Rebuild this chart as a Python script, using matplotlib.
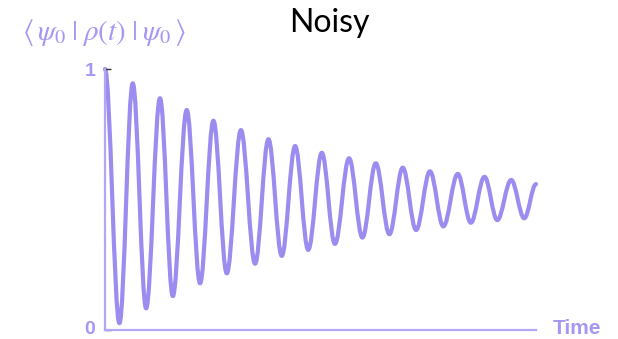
import matplotlib
matplotlib.use('Agg')
import matplotlib.pyplot as plt
from matplotlib.path import Path
from matplotlib.patches import PathPatch
from matplotlib.transforms import ScaledTranslation

# extremos (picos e vales) da curva; tempo em unidades de periodo
tempos = [0.00, 0.54, 1.04, 1.54, 2.06, 2.54, 3.06, 3.56, 4.06, 4.56, 5.09,
          5.62, 6.12, 6.62, 7.12, 7.61, 8.12, 8.61, 9.14, 9.64, 10.14, 10.65,
          11.15, 11.65, 12.17, 12.67, 13.21, 13.70, 14.21, 14.69, 15.21, 15.70, 16.14]
fidelidade = [1.000, 0.026, 0.945, 0.083, 0.888, 0.130, 0.843, 0.179, 0.802, 0.217, 0.766,
              0.254, 0.731, 0.284, 0.705, 0.307, 0.679, 0.330, 0.658, 0.354, 0.639, 0.367,
              0.622, 0.383, 0.608, 0.397, 0.598, 0.411, 0.587, 0.421, 0.575, 0.428, 0.559]
yticks = [0, 1]
ytick_labels = ['0', '1']

cor_linha = '#9b8cf0'
cor_eixo = '#b2a6f5'
cor_texto = '#a597f2'

plt.rcParams['mathtext.fontset'] = 'stix'

fig = plt.figure(figsize=(6.18, 3.39), dpi=100)
ax = fig.add_axes([105 / 618, 9 / 339, 431 / 618, 261 / 339])

# curva suave: segmentos de Bezier com tangente horizontal em cada extremo
verts = [(tempos[0], fidelidade[0])]
codes = [Path.MOVETO]
for i in range(len(tempos) - 1):
    d = (tempos[i + 1] - tempos[i]) * 0.3634
    verts += [(tempos[i] + d, fidelidade[i]),
              (tempos[i + 1] - d, fidelidade[i + 1]),
              (tempos[i + 1], fidelidade[i + 1])]
    codes += [Path.CURVE4] * 3
curva = PathPatch(Path(verts, codes), fill=False, edgecolor=cor_linha,
                  linewidth=3.0, capstyle='round', joinstyle='round', clip_on=False)
ax.add_patch(curva)

ax.set_xlim(0, tempos[-1])
ax.set_ylim(0, 1)
for lado in ['top', 'right']:
    ax.spines[lado].set_visible(False)
for lado in ['left', 'bottom']:
    ax.spines[lado].set_color(cor_eixo)
    ax.spines[lado].set_linewidth(1.6)

ax.set_xticks([])
ax.set_yticks(yticks)
ax.set_yticklabels(ytick_labels, fontsize=14, fontweight='bold',
                   color=cor_texto, family='Liberation Sans')
ax.tick_params(axis='y', direction='in', length=4, width=1, color='#333333', pad=7)
# o "0" fica um pouco acima da linha do eixo, como no original
rot0 = ax.yaxis.get_major_ticks()[0].label1
rot0.set_transform(rot0.get_transform() + ScaledTranslation(0, 2.5 / 100, fig.dpi_scale_trans))

fig.text(553 / 618, 1 - 329 / 339, 'Time', fontsize=15, fontweight='bold',
         color=cor_texto, family='Liberation Sans', ha='left', va='center')
fig.text(329 / 618, 1 - 23 / 339, 'Noisy', fontsize=23, color='black',
         family='Lato', ha='center', va='center')
fig.text(22 / 618, 1 - 33 / 339, r'$\langle\,\psi_0\;|\;\rho(t)\;|\;\psi_0\,\rangle$',
         fontsize=21, color=cor_texto, ha='left', va='center')

fig.savefig('out.png', dpi=100)
